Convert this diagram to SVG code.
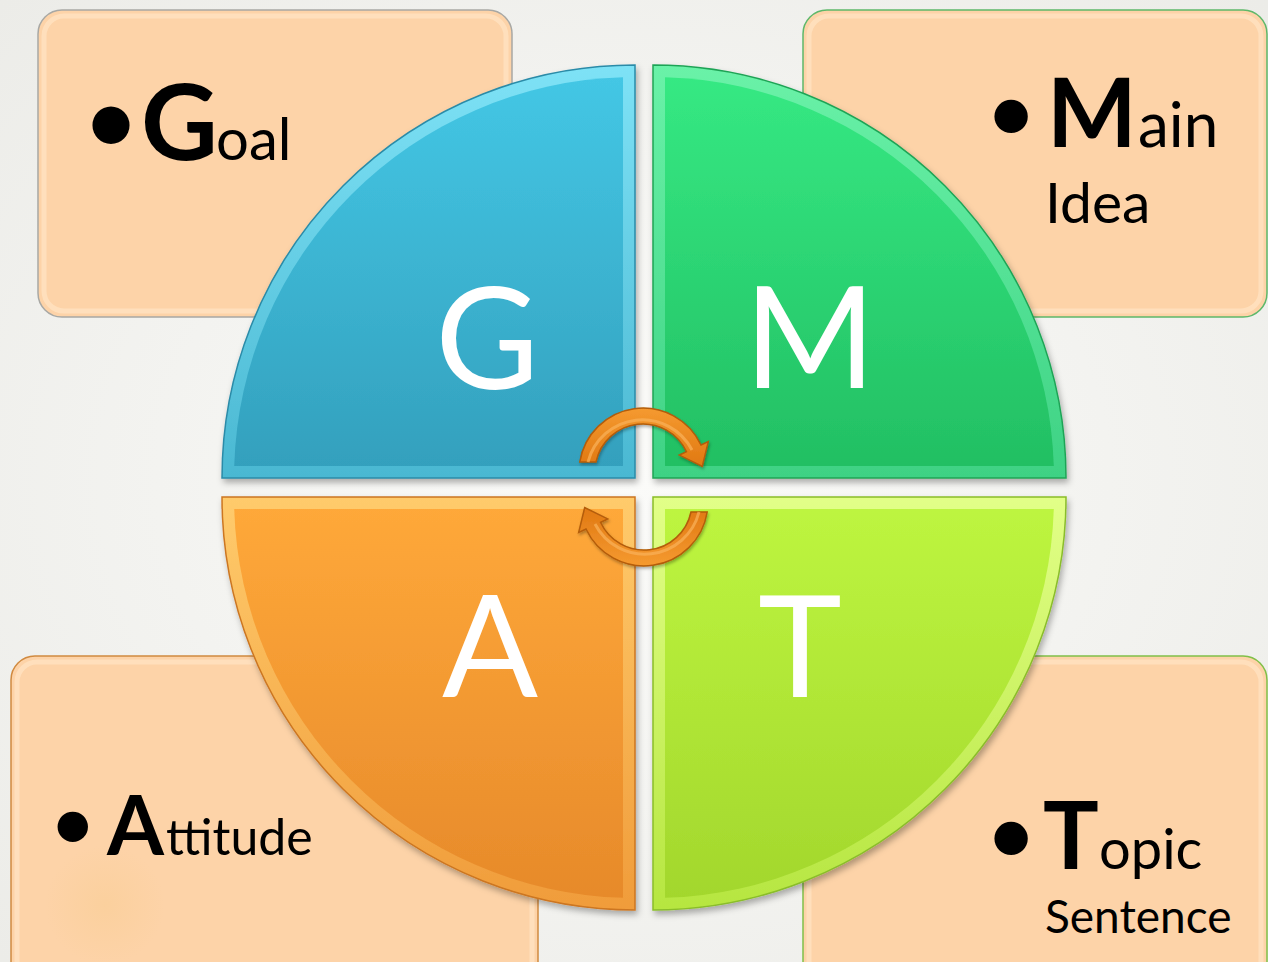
<svg xmlns="http://www.w3.org/2000/svg" xmlns:xlink="http://www.w3.org/1999/xlink" width="1268" height="962" viewBox="0 0 1268 962">
<defs>
<style>
.box{fill:#FDD3A8;stroke-width:1.5}
.rim{fill:none;stroke:#FFE2C0;stroke-width:5;opacity:0.8}
.t{font-family:Lato,"Liberation Sans",sans-serif;fill:#000}
.b{font-weight:700}
.q{font-family:Lato,"Liberation Sans",sans-serif;fill:#FFFFFF;font-size:142px;text-anchor:middle}
.arrow{fill:url(#gArrow);stroke:#B35C08;stroke-width:1.5}
</style>
<radialGradient id="bg" cx="0.5" cy="0.5" r="0.75">
<stop offset="0" stop-color="#FBFBF9"/>
<stop offset="1" stop-color="#EBEBE7"/>
</radialGradient>
<linearGradient id="gGm" gradientUnits="userSpaceOnUse" x1="0" y1="65" x2="0" y2="478"><stop offset="0" stop-color="#44C8E6"/><stop offset="1" stop-color="#339FBC"/></linearGradient>
<linearGradient id="gGb" gradientUnits="userSpaceOnUse" x1="0" y1="65" x2="0" y2="478"><stop offset="0" stop-color="#7EE2F6"/><stop offset="1" stop-color="#4AB8D2"/></linearGradient>
<linearGradient id="gMm" gradientUnits="userSpaceOnUse" x1="0" y1="65" x2="0" y2="478"><stop offset="0" stop-color="#36EA84"/><stop offset="1" stop-color="#22BE62"/></linearGradient>
<linearGradient id="gMb" gradientUnits="userSpaceOnUse" x1="0" y1="65" x2="0" y2="478"><stop offset="0" stop-color="#6AF2A8"/><stop offset="1" stop-color="#3ED284"/></linearGradient>
<linearGradient id="gAm" gradientUnits="userSpaceOnUse" x1="0" y1="497" x2="0" y2="910"><stop offset="0" stop-color="#FFA93A"/><stop offset="1" stop-color="#E6892A"/></linearGradient>
<linearGradient id="gAb" gradientUnits="userSpaceOnUse" x1="0" y1="497" x2="0" y2="910"><stop offset="0" stop-color="#FFCB6C"/><stop offset="1" stop-color="#F09C3A"/></linearGradient>
<linearGradient id="gTm" gradientUnits="userSpaceOnUse" x1="0" y1="497" x2="0" y2="910"><stop offset="0" stop-color="#BEF640"/><stop offset="1" stop-color="#A2D62C"/></linearGradient>
<linearGradient id="gTb" gradientUnits="userSpaceOnUse" x1="0" y1="497" x2="0" y2="910"><stop offset="0" stop-color="#E2FF88"/><stop offset="1" stop-color="#B6E640"/></linearGradient>
<linearGradient id="gArrow" x1="0" y1="0" x2="0" y2="1"><stop offset="0" stop-color="#F59A30"/><stop offset="1" stop-color="#E07812"/></linearGradient>
<filter id="shadow" x="-10%" y="-10%" width="120%" height="120%">
<feDropShadow dx="2" dy="4" stdDeviation="3" flood-color="#000" flood-opacity="0.3"/>
</filter>
<filter id="shadowS" x="-10%" y="-10%" width="120%" height="120%">
<feDropShadow dx="1" dy="2" stdDeviation="1.5" flood-color="#000" flood-opacity="0.3"/>
</filter>
<radialGradient id="spot" cx="0.5" cy="0.5" r="0.5"><stop offset="0" stop-color="#F8CC90" stop-opacity="0.45"/><stop offset="1" stop-color="#F8CC90" stop-opacity="0"/></radialGradient>
<path id="arr" d="M 579.8 462 A 64 64 0 0 1 701 445 L 708.3 441.6 L 702.3 466.4 L 679.3 455.1 L 686.5 451.7 A 48 48 0 0 0 596 462 Z"/>
</defs>
<rect width="1268" height="962" fill="url(#bg)"/>

<g id="box-goal">
<rect class="box" x="38" y="10" width="474" height="307" rx="24" stroke="#A8A8A4"/>
<rect class="rim" x="44" y="16" width="462" height="295" rx="20"/>
<text class="t" x="82" y="155" font-size="100">•</text>
<text class="t" y="160"><tspan class="b" x="141" font-size="106">G</tspan><tspan x="216" font-size="58">oal</tspan></text>
</g>
<g id="box-main">
<rect class="box" x="803" y="10" width="464" height="307" rx="24" stroke="#5EB86A"/>
<rect class="rim" x="809" y="16" width="452" height="295" rx="20"/>
<text class="t" x="985" y="143" font-size="90">•</text>
<text class="t" y="147"><tspan class="b" x="1047" font-size="95">M</tspan><tspan x="1138" font-size="62">ain</tspan></text>
<text class="t" x="1045" y="223" font-size="57">Idea</text>
</g>
<g id="box-attitude">
<rect class="box" x="11" y="656" width="527" height="330" rx="24" stroke="#D08A40"/>
<rect class="rim" x="17" y="662" width="515" height="318" rx="20"/>
<circle cx="105" cy="905" r="60" fill="url(#spot)"/>
<text class="t" x="49" y="851" font-size="82">•</text>
<text class="t" y="855"><tspan class="b" x="107" font-size="82">A</tspan><tspan x="166" font-size="50">ttitude</tspan></text>
</g>
<g id="box-topic">
<rect class="box" x="803" y="656" width="464" height="330" rx="24" stroke="#80C048"/>
<rect class="rim" x="809" y="662" width="452" height="318" rx="20"/>
<text class="t" x="985" y="865" font-size="90">•</text>
<text class="t" y="869"><tspan class="b" x="1043" font-size="93">T</tspan><tspan x="1099" font-size="56">opic</tspan></text>
<text class="t" x="1045" y="933" font-size="46">Sentence</text>
</g>

<g id="quad-g" filter="url(#shadow)">
<path d="M 635 478 L 222 478 A 413 413 0 0 1 635 65 Z" fill="url(#gGb)" stroke="#2A8BA8" stroke-width="1.5"/>
<path d="M 623 466 L 234.2 466 A 401 401 0 0 1 623 77.2 Z" fill="url(#gGm)"/>
<text class="q" x="487" y="389">G</text>
</g>
<g id="quad-m" filter="url(#shadow)">
<path d="M 653 478 L 653 65 A 413 413 0 0 1 1066 478 Z" fill="url(#gMb)" stroke="#1FA456" stroke-width="1.5"/>
<path d="M 665 466 L 665 77.2 A 401 401 0 0 1 1053.8 466 Z" fill="url(#gMm)"/>
<text class="q" x="810" y="388">M</text>
</g>
<g id="quad-a" filter="url(#shadow)">
<path d="M 635 497 L 635 910 A 413 413 0 0 1 222 497 Z" fill="url(#gAb)" stroke="#CC7620" stroke-width="1.5"/>
<path d="M 623 509 L 623 897.8 A 401 401 0 0 1 234.2 509 Z" fill="url(#gAm)"/>
<text class="q" x="490" y="697">A</text>
</g>
<g id="quad-t" filter="url(#shadow)">
<path d="M 653 497 L 1066 497 A 413 413 0 0 1 653 910 Z" fill="url(#gTb)" stroke="#8ABD2A" stroke-width="1.5"/>
<path d="M 665 509 L 1053.8 509 A 401 401 0 0 1 665 897.8 Z" fill="url(#gTm)"/>
<text class="q" x="800" y="697">T</text>
</g>

<g id="connectors" filter="url(#shadowS)">
<g id="arrow-g-m">
<use href="#arr" xlink:href="#arr" class="arrow"/>
<path d="M 588 462 A 56 56 0 0 1 692 450" fill="none" stroke="#F9B25A" stroke-width="3" opacity="0.7"/>
</g>
<g id="arrow-t-a" transform="rotate(180 643.5 487)">
<use href="#arr" xlink:href="#arr" class="arrow"/>
<path d="M 588 462 A 56 56 0 0 1 692 450" fill="none" stroke="#F9B25A" stroke-width="3" opacity="0.7"/>
</g>
</g>
</svg>
